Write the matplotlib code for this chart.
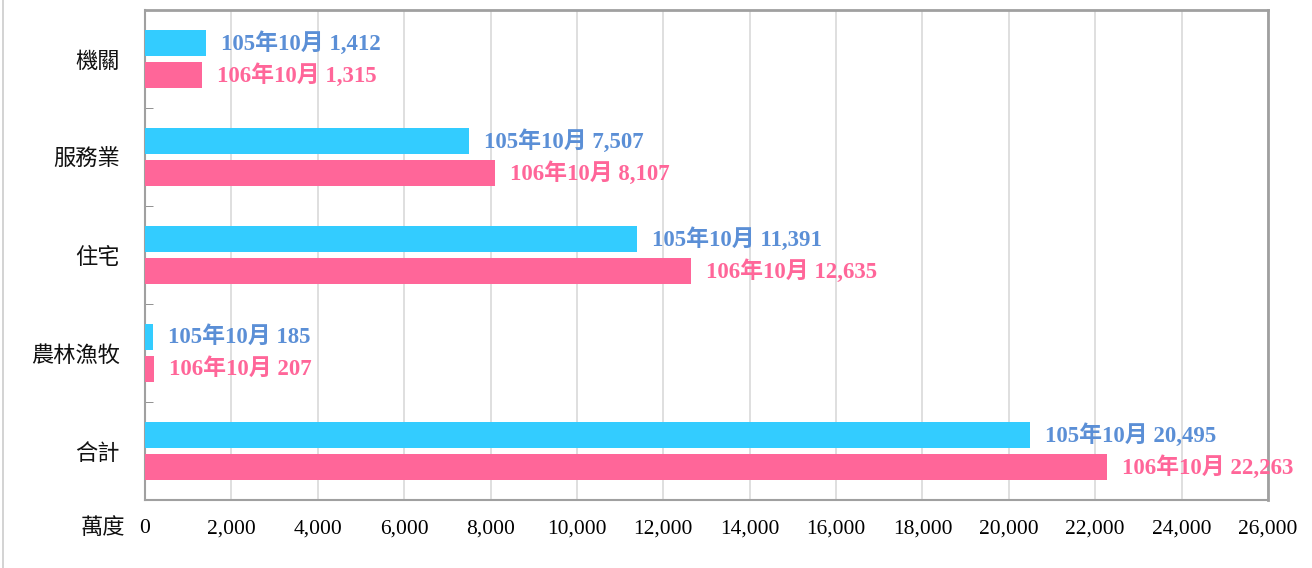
import matplotlib
matplotlib.use("Agg")
import matplotlib.pyplot as plt
from matplotlib.lines import Line2D
from matplotlib.ticker import FuncFormatter, FixedLocator
import numpy as np

plt.rcParams['font.family'] = ['Noto Sans CJK TC', 'DejaVu Sans']

categories = ["機關", "服務業", "住宅", "農林漁牧", "合計"]
series_names = ["105年10月", "106年10月"]
vals_105 = [1412, 7507, 11391, 185, 20495]
vals_106 = [1315, 8107, 12635, 207, 22263]
xticks = list(range(0, 26001, 2000))

bar_colors = ["#33CCFF", "#FF6699"]
label_colors = ["#5B8FD6", "#FF6699"]
serif = ['Liberation Serif', 'Noto Sans CJK TC']

fig = plt.figure(figsize=(13.12, 5.68), dpi=100)
ax = fig.add_axes([145 / 1312, 1 - 500 / 568, (1268 - 145) / 1312, 490 / 568])

n = len(categories)
y = np.arange(n)
h = 0.265
off = 0.16
ax.barh(y - off, vals_105, height=h, color=bar_colors[0], zorder=3)
ax.barh(y + off, vals_106, height=h, color=bar_colors[1], zorder=3)

for i in range(n):
    ax.text(vals_105[i] + 350, y[i] - off, f"{series_names[0]} {vals_105[i]:,}",
            va="center", ha="left", fontsize=16.5, fontweight="bold",
            color=label_colors[0], family=serif, zorder=4)
    ax.text(vals_106[i] + 350, y[i] + off, f"{series_names[1]} {vals_106[i]:,}",
            va="center", ha="left", fontsize=16.5, fontweight="bold",
            color=label_colors[1], family=serif, zorder=4)

ax.set_ylim(n - 0.5, -0.5)
ax.set_xlim(0, 26000)
ax.set_yticks(y)
ax.set_yticklabels(categories, fontsize=16, color="#111111", fontweight="medium")
ax.yaxis.set_minor_locator(FixedLocator(np.arange(0.5, n - 0.5, 1)))
ax.tick_params(axis="y", which="major", length=0, pad=18)
ax.tick_params(axis="y", which="minor", length=6, direction="in", color="#808080")

ax.set_xticks(xticks)
ax.xaxis.set_major_formatter(FuncFormatter(lambda v, p: f"{int(v):,}"))
ax.tick_params(axis="x", length=0, pad=14)
for lab in ax.get_xticklabels():
    lab.set_family(serif)
    lab.set_fontsize(15.5)

ax.grid(axis="x", color="#d9d9d9", linewidth=1.2, zorder=0)
ax.set_axisbelow(True)
for s in ["top", "right"]:
    ax.spines[s].set_color("#a0a0a0")
    ax.spines[s].set_linewidth(2)
for s in ["left", "bottom"]:
    ax.spines[s].set_color("#a0a0a0")
    ax.spines[s].set_linewidth(1.5)

fig.text(125 / 1312, 1 - 527 / 568, "萬度", ha="right", va="center", fontsize=16,
         color="#111111", fontweight="medium")
fig.add_artist(Line2D([3 / 1312, 3 / 1312], [0, 1], color="#cccccc", linewidth=1.2))

fig.savefig("out.png", dpi=100)
